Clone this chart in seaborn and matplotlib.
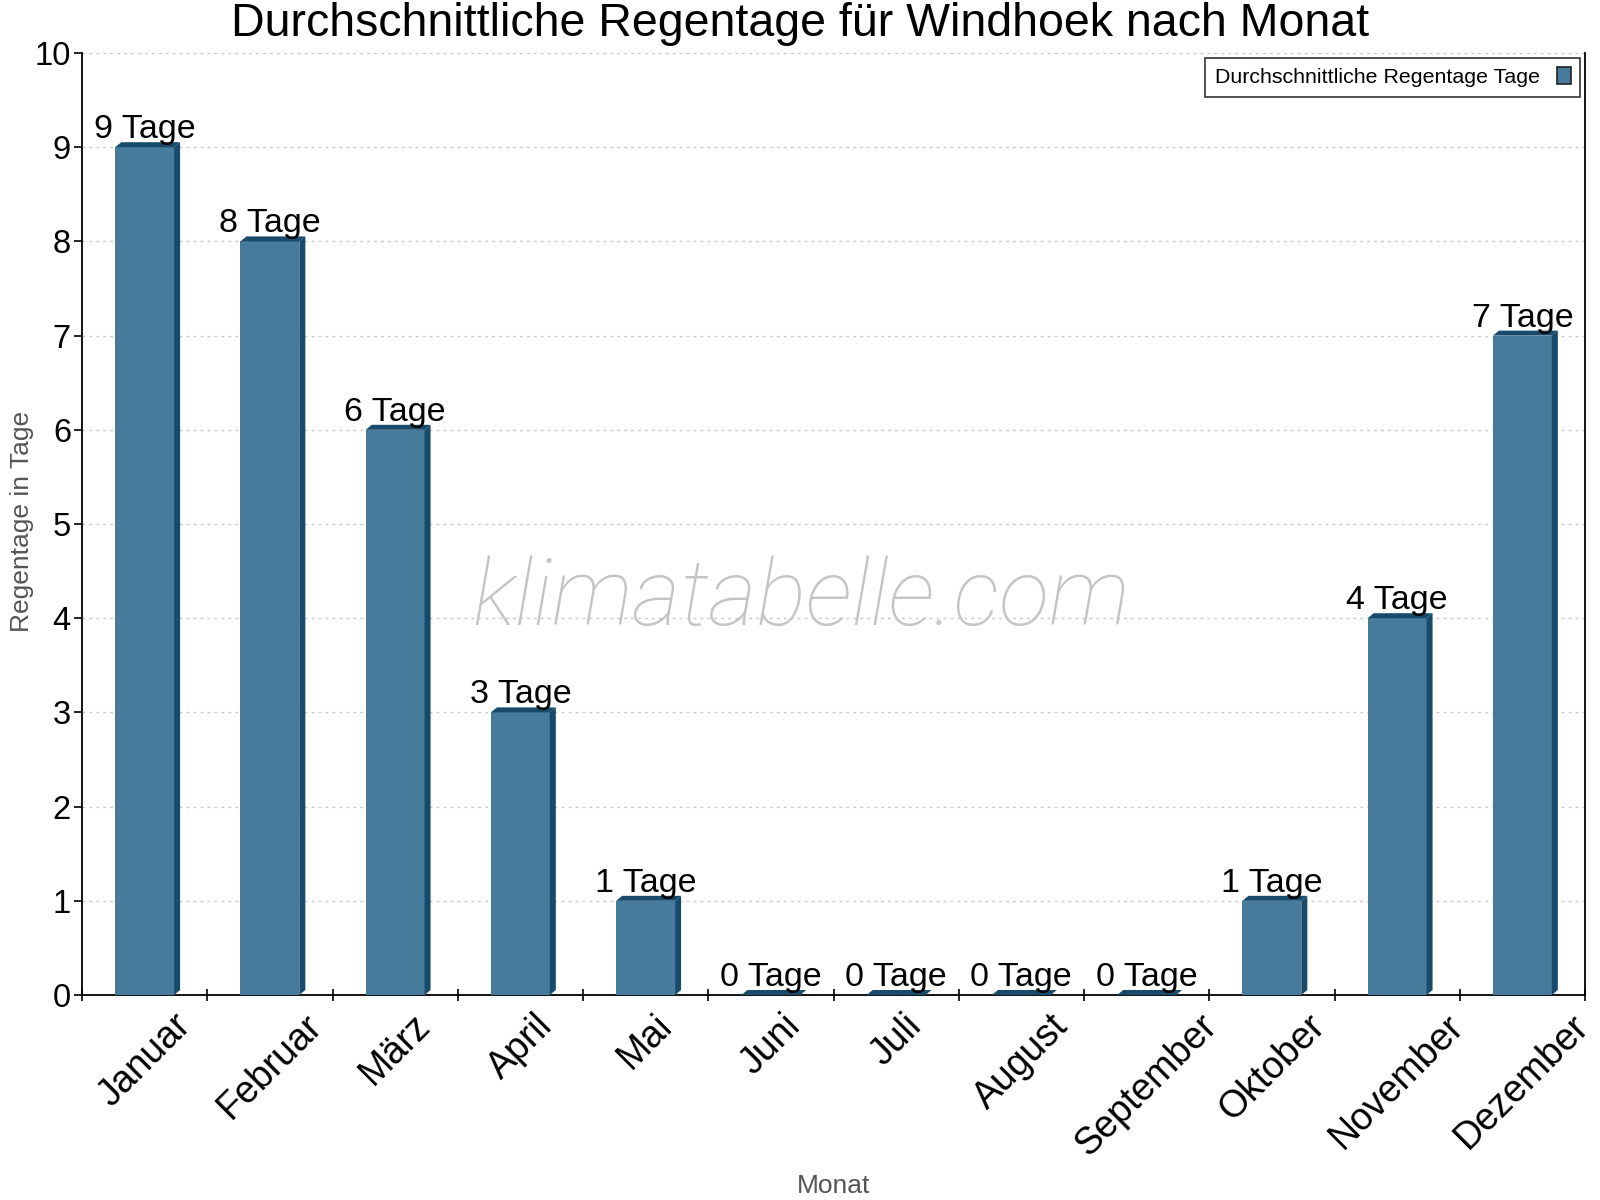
import numpy as np
import pandas as pd
import matplotlib
matplotlib.use('Agg')
import matplotlib.pyplot as plt
import seaborn as sns
from matplotlib.patches import Polygon, Patch

monate = ['Januar', 'Februar', 'März', 'April', 'Mai', 'Juni', 'Juli',
          'August', 'September', 'Oktober', 'November', 'Dezember']
regentage = [9, 8, 6, 3, 1, 0, 0, 0, 0, 1, 4, 7]

front = '#467b9c'
side = '#174a6b'

sns.set_style('white')
plt.rcParams['font.family'] = ['Liberation Sans', 'DejaVu Sans']
plt.rcParams['text.color'] = 'black'
plt.rcParams['xtick.color'] = 'black'
plt.rcParams['ytick.color'] = 'black'

df = pd.DataFrame({'Monat': monate, 'Tage': regentage})

fig = plt.figure(figsize=(16, 12), dpi=100)
ax = fig.add_axes([0.05125, 0.17083, 0.939375, 0.785])

sns.barplot(data=df, x='Monat', y='Tage', color=front, width=0.47,
            saturation=1, linewidth=0, ax=ax, zorder=3)

# fake 3d: side and top faces
dx, dy = 0.048, 0.053
for p, v in zip(ax.patches, regentage):
    x0, w, h = p.get_x(), p.get_width(), p.get_height()
    ax.add_patch(Polygon([(x0 + w, 0), (x0 + w + dx, dy), (x0 + w + dx, h + dy), (x0 + w, h)],
                         closed=True, facecolor=side, edgecolor='none', zorder=3))
    ax.add_patch(Polygon([(x0, h), (x0 + dx, h + dy), (x0 + w + dx, h + dy), (x0 + w, h)],
                         closed=True, facecolor=side, edgecolor='none', zorder=3))
    ax.annotate(f'{v} Tage', xy=(x0 + w / 2, h), xytext=(0, 6.5),
                textcoords='offset points', ha='center', va='baseline',
                fontsize=24.5, color='black', zorder=4)

ax.set_ylim(0, 10)
ax.set_xlim(-0.5, len(monate) - 0.5)
ax.set_yticks(range(0, 11))
ax.tick_params(axis='y', labelsize=23.5, length=6, width=1.2, pad=2, direction='out', left=True)

# ticks between categories, labels at centers
ax.set_xticks(np.arange(-0.5, len(monate), 1.0))
ax.set_xticklabels([])
ax.set_xticks(np.arange(len(monate)), minor=True)
ax.set_xticklabels(monate, minor=True, rotation=45, ha='center', va='top', fontsize=27)
ax.tick_params(axis='x', which='major', length=8, width=1.2, direction='inout', bottom=True)
ax.tick_params(axis='x', which='minor', length=0, pad=9)

ax.yaxis.grid(True, color='#c8c8c8', linestyle=(0, (2, 3)), linewidth=1)
ax.set_axisbelow(True)
for s in ['left', 'bottom', 'right']:
    ax.spines[s].set_visible(True)
    ax.spines[s].set_color('black')
    ax.spines[s].set_linewidth(1.3)
ax.spines['top'].set_visible(False)

ax.set_xlabel('Monat', fontsize=19, color='#555555')
ax.xaxis.set_label_coords(0.5, -0.203)
ax.xaxis.label.set_va('center')
ax.set_ylabel('Regentage in Tage', fontsize=19, color='#555555')
ax.yaxis.set_label_coords(-0.040, 0.503)
ax.yaxis.label.set_va('center')

fig.text(0.5, 1 - 36 / 1200, 'Durchschnittliche Regentage für Windhoek nach Monat',
         ha='center', va='baseline', fontsize=33.5, color='black')

leg = ax.legend(handles=[Patch(facecolor=front, edgecolor='#222222', linewidth=1.2)],
                labels=['Durchschnittliche Regentage Tage'], loc='upper right',
                bbox_to_anchor=(0.997, 0.995), borderaxespad=0, markerfirst=False,
                fontsize=15.4, fancybox=False, handlelength=0.65, handleheight=0.85,
                handletextpad=0.8, borderpad=0.45)
leg.get_frame().set_edgecolor('black')
leg.get_frame().set_linewidth(1.2)

fig.text(801 / 1600, 1 - 600 / 1200, 'klimatabelle.com', ha='center', va='center',
         fontsize=67, color='#c4c4c4', fontstyle='italic', fontweight='light',
         family=['Roboto', 'DejaVu Sans'], zorder=0)

fig.savefig('out.png', dpi=100)
